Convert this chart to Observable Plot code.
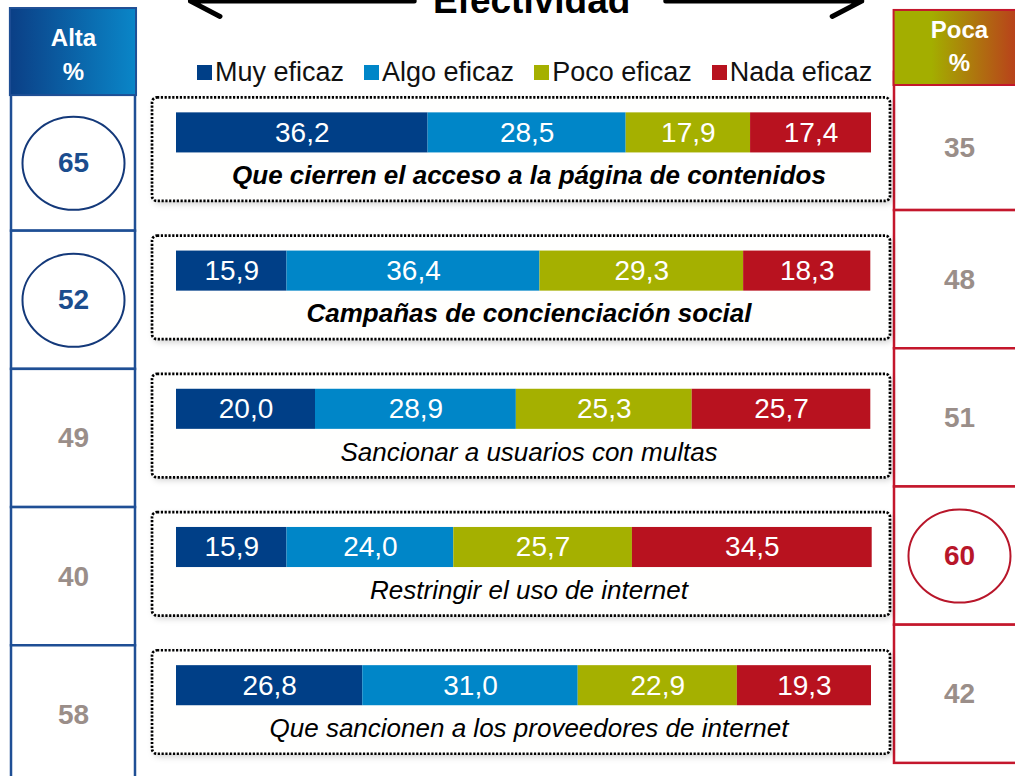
<!DOCTYPE html>
<html>
<head>
<meta charset="utf-8">
<script src="https://cdn.jsdelivr.net/npm/d3@7"></script>
<script src="https://cdn.jsdelivr.net/npm/@observablehq/plot@0.6"></script>
<style>
  body { margin: 0; background: #fff; }
  #wrap { position: relative; width: 1015px; height: 776px; overflow: hidden; font-family: "Liberation Sans", Arial, sans-serif; }
  #legend { position: absolute; top: 57px; left: 197px; display: flex; gap: 20px; font-size: 27px; color: #111; white-space: nowrap; }
  #legend .item { display: flex; align-items: center; }
  #legend .sw { width: 15px; height: 15px; margin-right: 3px; }
  g[fill="#fffffe"] { filter: drop-shadow(2px 3px 3px rgba(0,0,0,0.18)); }
</style>
</head>
<body>
<div id="wrap"><div id="chart"></div><div id="legend"></div></div>
<script>
// ---- Data ----
const medidas = [
  "Que cierren el acceso a la página de contenidos",
  "Campañas de concienciación social",
  "Sancionar a usuarios con multas",
  "Restringir el uso de internet",
  "Que sancionen a los proveedores de internet"
];
const categorias = ["Muy eficaz", "Algo eficaz", "Poco eficaz", "Nada eficaz"];
const muyEficaz  = [36.2, 15.9, 20.0, 15.9, 26.8];
const algoEficaz = [28.5, 36.4, 28.9, 24.0, 31.0];
const pocoEficaz = [17.9, 29.3, 25.3, 25.7, 22.9];
const nadaEficaz = [17.4, 18.3, 25.7, 34.5, 19.3];
const altaPct = [65, 52, 49, 40, 58];
const pocaPct = [35, 48, 51, 60, 42];
const destacadaAlta = [true, true, false, false, false];
const destacadaPoca = [false, false, false, true, false];
const titulo = "Efectividad";
const cabeceraAlta = ["Alta", "%"];
const cabeceraPoca = ["Poca", "%"];

const colores = ["#003f87", "#0086c8", "#a5b000", "#b8121f"];
const serie = [muyEficaz, algoEficaz, pocoEficaz, nadaEficaz];

const filas = medidas.map((m, i) => ({
  i, medida: m, alta: altaPct[i], poca: pocaPct[i], dA: destacadaAlta[i], dP: destacadaPoca[i]
}));
const segmentos = filas.flatMap(f => {
  let acc = 0;
  return categorias.map((c, k) => {
    const v = serie[k][f.i];
    const s = {i: f.i, cat: c, v, x1: acc, x2: acc + v};
    acc += v;
    return s;
  });
});
const fmt = v => d3.format(".1f")(v).replace(".", ",");

// ellipse symbol (slightly wider than tall)
const elipse = {
  draw(ctx, size) {
    const r = Math.sqrt(size / Math.PI), a = r * 1.097, b = r, k = 0.5522847;
    ctx.moveTo(a, 0);
    ctx.bezierCurveTo(a, k * b, k * a, b, 0, b);
    ctx.bezierCurveTo(-k * a, b, -a, k * b, -a, 0);
    ctx.bezierCurveTo(-a, -k * b, -k * a, -b, 0, -b);
    ctx.bezierCurveTo(k * a, -b, a, -k * b, a, 0);
    ctx.closePath();
  }
};

const FF = "Liberation Sans, Arial, sans-serif";
const azul = "#1f4f95", rojo = "#c4172c", gris = "#9a8e89";

// cell geometry (row units) and header bottoms
const celdaA = i => [i - 0.289, i + 0.711], cabA = [-0.90, -0.27];
const celdaP = i => [i - 0.438, i + 0.562], cabP = [-0.886, -0.343];
const centroA = i => (Math.max(celdaA(i)[0], cabA[1]) + celdaA(i)[1]) / 2;
const centroP = i => (Math.max(celdaP(i)[0], cabP[1]) + celdaP(i)[1]) / 2;

const etiqueta = (data, bold) => Plot.text(data, {x: () => 50, y: d => d.i + 0.311, dx: 5, text: "medida",
  fontStyle: "italic", fontWeight: bold ? "bold" : "normal", fontSize: 26, fontFamily: FF, fill: "#000"});

const chart = Plot.plot({
  width: 1015, height: 776, margin: 0,
  x: {domain: [0, 100], range: [176, 871], axis: null},
  y: {domain: [0, 4], range: [132.4, 685.2], axis: null},
  marks: [
    // title + arrows
    Plot.text([titulo], {x: () => 51.1, y: () => -0.864, text: d => d, lineAnchor: "bottom",
      fontSize: 37, fontWeight: "bold", fontFamily: FF, fill: "#000"}),
    Plot.arrow([0], {x1: () => 34.2, x2: () => 2.0, y1: () => -0.954, y2: () => -0.954,
      stroke: "#000", strokeWidth: 5, headLength: 10, headAngle: 55}),
    Plot.arrow([0], {x1: () => 70.4, x2: () => 98.6, y1: () => -0.954, y2: () => -0.954,
      stroke: "#000", strokeWidth: 5, headLength: 10, headAngle: 55}),

    // left column (Alta)
    Plot.rect(filas, {x1: () => -23.74, x2: () => -5.9, y1: d => celdaA(d.i)[0], y2: d => celdaA(d.i)[1],
      fill: "white", stroke: azul, strokeWidth: 2.5}),
    Plot.rect([0], {x1: () => -23.9, x2: () => -5.75, y1: () => cabA[0], y2: () => cabA[1],
      fill: "url(#gAlta)", stroke: azul, strokeWidth: 2}),
    Plot.text(cabeceraAlta, {x: () => -14.82, y: (d, j) => j === 0 ? -0.683 : -0.437, text: d => d,
      fill: "white", fontWeight: "bold", fontSize: 24, fontFamily: FF}),
    Plot.dot(filas.filter(d => d.dA), {x: () => -14.82, y: d => centroA(d.i), r: 46.5, symbol: elipse,
      stroke: "#14397a", strokeWidth: 2, fill: "none"}),
    Plot.text(filas, {x: () => -14.82, y: d => centroA(d.i), text: d => String(d.alta),
      fill: d => d.dA ? "#1b4d8e" : gris, fontWeight: "bold", fontSize: 28, fontFamily: FF}),

    // right column (Poca)
    Plot.rect(filas, {x1: () => 103.31, x2: () => 125, y1: d => celdaP(d.i)[0], y2: d => celdaP(d.i)[1],
      fill: "white", stroke: rojo, strokeWidth: 2.5}),
    Plot.rect([0], {x1: () => 103.25, x2: () => 125, y1: () => cabP[0], y2: () => cabP[1],
      fill: "url(#gPoca)", stroke: rojo, strokeWidth: 2}),
    Plot.text(cabeceraPoca, {x: () => 112.66, y: (d, j) => j === 0 ? -0.741 : -0.502, text: d => d,
      fill: "white", fontWeight: "bold", fontSize: 24, fontFamily: FF}),
    Plot.dot(filas.filter(d => d.dP), {x: () => 112.66, y: d => centroP(d.i), r: 46.5, symbol: elipse,
      stroke: "#b8162a", strokeWidth: 2, fill: "none"}),
    Plot.text(filas, {x: () => 112.66, y: d => centroP(d.i), text: d => String(d.poca),
      fill: d => d.dP ? "#b8162a" : gris, fontWeight: "bold", fontSize: 28, fontFamily: FF}),

    // panels
    Plot.rect(filas, {x1: () => -3.45, x2: () => 102.73, y1: d => d.i - 0.253, y2: d => d.i + 0.496,
      fill: "#fffffe", rx: 5}),
    Plot.rect(filas, {x1: () => -3.45, x2: () => 102.73, y1: d => d.i - 0.253, y2: d => d.i + 0.496,
      fill: "none", stroke: "#000", strokeWidth: 2.7, strokeDasharray: "2.2,1.6", rx: 5}),

    // stacked bars
    Plot.rect(segmentos, {x1: "x1", x2: "x2", y1: d => d.i - 0.145, y2: d => d.i + 0.145,
      fill: d => colores[categorias.indexOf(d.cat)]}),
    Plot.text(segmentos, {x: d => (d.x1 + d.x2) / 2, y: "i", text: d => fmt(d.v),
      fill: "white", fontSize: 28, fontFamily: FF}),

    // category labels (bold when the high-effectiveness share is highlighted)
    etiqueta(filas.filter(d => d.dA), true),
    etiqueta(filas.filter(d => !d.dA), false)
  ]
});

d3.select(chart).insert("defs", ":first-child").html(
  `<linearGradient id="gAlta" x1="0" x2="1" y1="0" y2="0">
     <stop offset="0" stop-color="#0b3f86"/><stop offset="1" stop-color="#0a86c8"/>
   </linearGradient>
   <linearGradient id="gPoca" x1="0" x2="1" y1="0" y2="0">
     <stop offset="0" stop-color="#a3ae00"/><stop offset="0.25" stop-color="#a3ae00"/><stop offset="1" stop-color="#c01c24"/>
   </linearGradient>`
);
document.getElementById("chart").appendChild(chart);

// legend
const leg = d3.select("#legend");
categorias.forEach((c, k) => {
  const it = leg.append("div").attr("class", "item");
  it.append("div").attr("class", "sw").style("background", colores[k]);
  it.append("span").text(c);
});
</script>
</body>
</html>
